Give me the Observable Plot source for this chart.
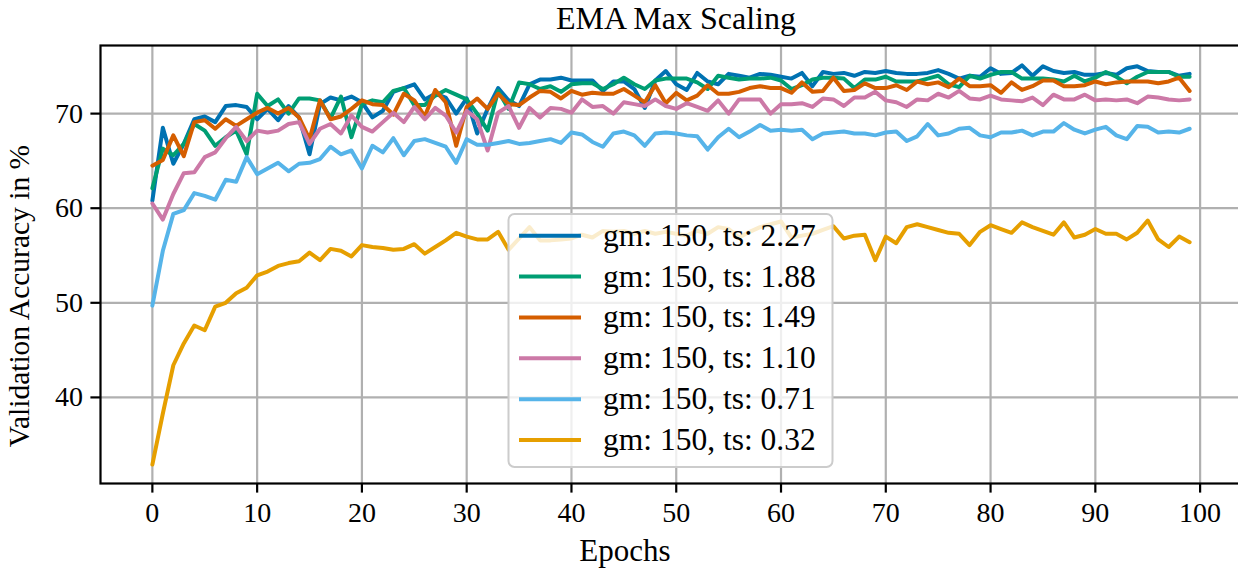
<!DOCTYPE html>
<html><head><meta charset="utf-8">
<script src="https://cdn.jsdelivr.net/npm/d3@7"></script>
<script src="https://cdn.jsdelivr.net/npm/@observablehq/plot@0.6"></script>
<style>
html,body{margin:0;padding:0;background:#fff;overflow:hidden;}
#chart{position:relative;width:1238px;height:571px;}
</style></head><body><div id="chart"></div>
<script>
const chartTitle = "EMA Max Scaling";
const xLabel = "Epochs";
const yLabel = "Validation Accuracy in %";
const epochTicks = [0,10,20,30,40,50,60,70,80,90,100];
const accTicks = [40,50,60,70];
const seriesLabels = ["gm: 150, ts: 2.27","gm: 150, ts: 1.88","gm: 150, ts: 1.49","gm: 150, ts: 1.10","gm: 150, ts: 0.71","gm: 150, ts: 0.32"];
const seriesColors = ["#0072b2","#009e73","#d55e00","#cc79a7","#56b4e9","#e69f00"];

const ts227 = [60.8,68.5,64.7,66.8,69.4,69.7,69.1,70.8,70.9,70.7,
69.4,70.5,69.3,70.8,69.6,65.7,71.0,71.7,71.4,71.8,
71.2,69.6,70.3,72.3,72.7,73.1,71.5,72.1,71.7,70.0,
71.6,67.9,70.5,72.7,71.4,70.8,73.1,73.6,73.6,73.8,
73.5,73.5,73.5,72.4,73.4,73.4,72.6,70.6,73.5,74.5,
73.1,72.5,74.3,73.4,73.1,74.2,74.0,73.8,74.2,74.1,
73.9,73.7,74.3,72.9,74.4,74.2,74.3,74.0,74.4,74.3,
74.5,74.3,74.2,74.2,74.3,74.6,74.2,73.7,74.0,73.9,
74.8,74.2,74.3,75.1,74.0,75.0,74.5,74.3,74.4,74.1,
74.1,74.3,74.1,74.8,75.0,74.5,74.4,74.4,74.0,74.2];
const ts188 = [62.1,66.3,65.6,66.8,68.9,68.2,66.6,67.5,68.2,65.7,
72.1,70.8,71.5,70.0,71.6,71.6,71.4,69.5,71.8,67.5,
71.0,71.4,71.2,72.4,72.7,70.9,70.9,71.9,72.5,72.0,
71.5,70.0,68.2,72.4,70.5,73.3,73.1,72.6,72.9,72.3,
73.1,73.2,73.2,72.6,73.1,73.8,73.1,72.6,73.5,73.7,
73.7,73.7,73.3,72.6,74.0,73.8,73.6,73.7,73.7,73.8,
73.5,72.6,73.0,73.6,73.8,73.8,73.7,72.7,73.6,73.6,
73.9,73.4,73.4,73.4,73.7,74.0,73.1,72.8,74.0,73.7,
74.1,74.4,74.4,73.7,73.7,73.7,73.6,73.4,74.0,73.4,
73.8,74.4,73.9,73.2,73.9,74.4,74.4,74.4,73.9,73.9];
const ts149 = [64.5,65.1,67.7,65.5,69.1,69.3,68.4,69.4,68.7,69.4,
70.1,70.6,70.0,70.6,69.6,67.3,71.4,69.4,69.7,70.5,
71.4,71.0,70.9,69.9,72.1,71.4,69.7,72.5,71.2,66.6,
70.7,71.6,70.5,72.1,71.0,70.9,71.7,72.4,72.3,71.6,
72.4,72.0,72.2,72.1,72.1,72.6,71.9,71.2,73.0,71.1,
72.2,71.4,71.9,73.0,72.1,72.1,72.3,72.7,72.9,72.7,
72.7,72.2,73.3,72.3,72.4,73.8,72.4,72.5,73.2,72.7,
72.7,73.0,72.5,73.4,73.1,73.3,72.8,73.7,72.9,72.9,
73.0,72.2,73.3,72.5,72.9,73.5,73.5,72.9,72.9,73.0,
73.4,73.1,73.3,73.4,73.4,73.4,73.2,73.4,73.8,72.4];
const ts110 = [60.5,58.8,61.5,63.7,63.8,65.4,65.9,67.4,68.6,67.1,
68.2,68.0,68.2,68.9,69.1,66.8,68.4,68.9,67.9,69.8,
68.6,68.1,69.1,70.1,69.1,70.7,69.4,70.6,69.8,68.0,
70.3,69.4,66.1,70.1,70.8,68.5,70.6,69.6,70.6,70.5,
70.1,71.5,70.7,70.8,70.0,71.2,71.0,70.8,71.5,70.8,
70.5,71.1,70.7,70.3,71.4,70.0,71.5,71.5,71.5,70.0,
71.0,71.0,71.1,70.7,71.6,71.5,70.8,71.7,71.7,72.3,
71.4,71.2,70.7,71.5,71.4,72.1,71.7,72.4,71.6,71.5,
71.9,71.5,71.4,71.3,71.7,70.9,72.0,71.5,71.5,72.0,
71.4,71.5,71.4,71.5,71.1,71.8,71.7,71.5,71.4,71.5];
const ts071 = [49.7,55.5,59.4,59.8,61.6,61.3,60.9,63.0,62.8,65.4,
63.6,64.2,64.8,63.9,64.7,64.8,65.2,66.5,65.7,66.1,
64.2,66.6,65.9,67.4,65.6,67.1,67.3,66.9,66.5,64.8,
67.3,66.7,66.7,66.9,67.1,66.8,66.9,67.1,67.3,66.9,
68.0,67.8,67.0,66.5,67.9,68.1,67.7,66.6,67.9,68.0,
67.9,67.7,67.6,66.2,67.5,68.4,67.5,68.1,68.8,68.2,
68.3,68.2,68.3,67.3,67.9,68.0,68.1,67.9,67.9,67.7,
68.0,68.1,67.1,67.6,68.9,67.7,67.9,68.4,68.5,67.7,
67.5,68.0,68.0,68.2,67.7,68.1,68.1,69.0,68.3,67.9,
68.3,68.6,67.7,67.3,68.7,68.6,68.0,68.1,68.0,68.4];
const ts032 = [32.9,38.3,43.4,45.7,47.6,47.1,49.6,50.0,51.0,51.6,
52.9,53.3,53.9,54.2,54.4,55.3,54.5,55.7,55.5,54.9,
56.1,55.9,55.8,55.6,55.7,56.2,55.2,55.9,56.6,57.4,
57.0,56.7,56.7,57.5,55.6,56.8,58.0,56.6,56.6,56.7,
56.8,57.2,56.9,57.6,57.5,57.6,57.3,57.6,57.3,57.5,
57.3,57.1,57.6,57.3,58.0,57.8,56.9,57.5,58.0,58.3,
58.6,56.9,57.1,57.3,57.7,58.1,56.8,57.1,57.2,54.5,
57.0,56.3,58.0,58.3,58.0,57.7,57.4,57.3,56.1,57.5,
58.2,57.8,57.4,58.5,58.0,57.6,57.2,58.5,56.9,57.2,
57.8,57.3,57.3,56.7,57.4,58.7,56.7,55.9,57.0,56.4];

const allSeries = [ts227, ts188, ts149, ts110, ts071, ts032];
const rows = [];
allSeries.forEach((vals, s) => vals.forEach((v, i) => rows.push({epoch: i, acc: v, series: seriesLabels[s]})));

const FONT = "'Liberation Serif', 'Times New Roman', serif";
const FS = 28;

const plot = Plot.plot({
  width: 1238, height: 571,
  marginLeft: 100, marginRight: -3, marginTop: 45, marginBottom: 88,
  style: {fontFamily: FONT, fontSize: FS + "px", background: "white", color: "black", overflow: "visible"},
  x: {domain: [-4.95, 103.95]},
  y: {domain: [30.9, 77.2]},
  color: {domain: seriesLabels, range: seriesColors},
  marks: [
    Plot.gridX(epochTicks, {stroke: "#b0b0b0", strokeOpacity: 1, strokeWidth: 2.2}),
    Plot.gridY(accTicks, {stroke: "#b0b0b0", strokeOpacity: 1, strokeWidth: 2.2}),
    Plot.line(rows, {x: "epoch", y: "acc", z: "series", stroke: "series", strokeWidth: 4, strokeLinejoin: "round"}),
    Plot.frame({stroke: "black", strokeWidth: 2.2}),
    Plot.axisX(epochTicks, {tickSize: 9.6, tickPadding: 9, strokeWidth: 2.2, label: null, fontSize: FS, fill: "black"}),
    Plot.axisY(accTicks, {tickSize: 9.6, tickPadding: 8, strokeWidth: 2.2, label: null, fontSize: FS, fill: "black"})
  ]
});
document.getElementById("chart").appendChild(plot);

const svg = d3.select(plot);
svg.append("text").attr("x", 676).attr("y", 29).attr("text-anchor", "middle")
  .attr("font-family", FONT).attr("font-size", 32).attr("fill", "black").text(chartTitle);
svg.append("text").attr("x", 625).attr("y", 561).attr("text-anchor", "middle")
  .attr("font-family", FONT).attr("font-size", 31).attr("fill", "black").text(xLabel);
svg.append("text").attr("transform", "translate(29,296) rotate(-90)").attr("text-anchor", "middle")
  .attr("font-family", FONT).attr("font-size", 29.5).attr("fill", "black").text(yLabel);

// legend
const lg = svg.append("g");
lg.append("rect").attr("x", 508.5).attr("y", 214).attr("width", 324).attr("height", 253)
  .attr("rx", 6).attr("fill", "white").attr("fill-opacity", 0.8)
  .attr("stroke", "#cccccc").attr("stroke-width", 2);
const rowY0 = 235.7, rowStep = 40.87;
seriesLabels.forEach((lab, i) => {
  const y = rowY0 + i * rowStep;
  lg.append("line").attr("x1", 519).attr("x2", 581).attr("y1", y).attr("y2", y)
    .attr("stroke", seriesColors[i]).attr("stroke-width", 4);
  lg.append("text").attr("x", 603).attr("y", y + 10).attr("text-anchor", "start")
    .attr("font-family", FONT).attr("font-size", 31.5).attr("fill", "black").text(lab);
});
</script></body></html>
